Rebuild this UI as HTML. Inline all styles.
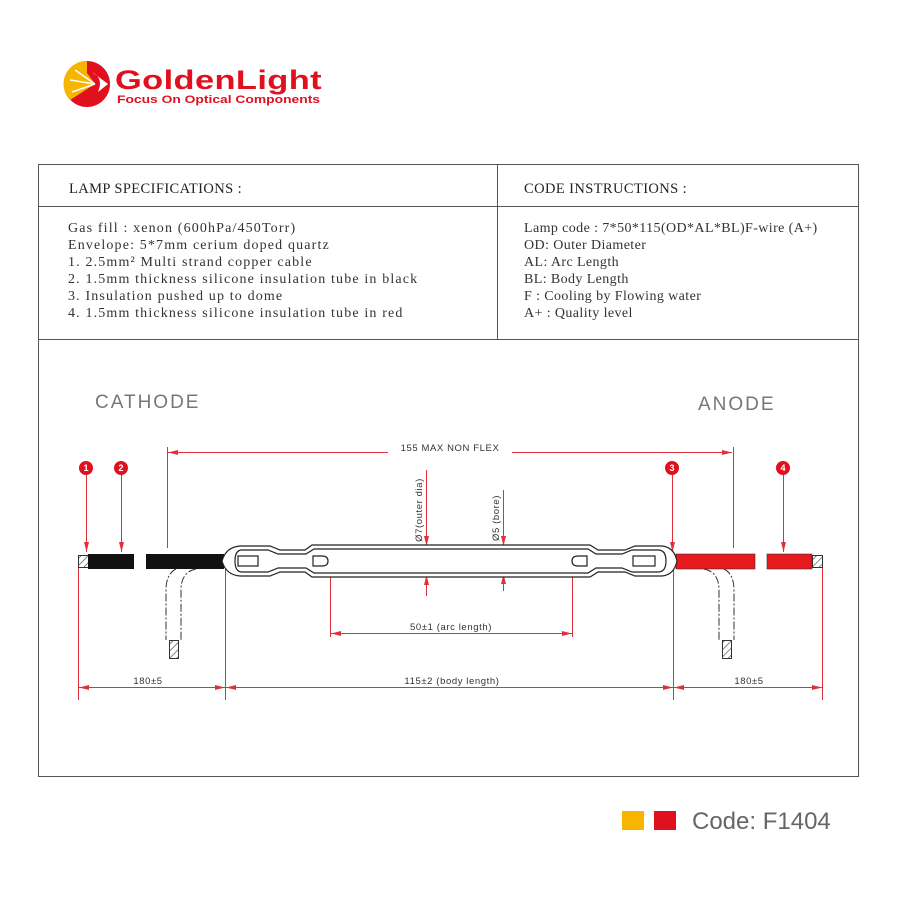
<!DOCTYPE html>
<html><head><meta charset="utf-8"><style>
html,body{margin:0;padding:0;background:#fff;}
svg{display:block;}
.s{font-family:"Liberation Serif",serif;font-size:14px;fill:#333;letter-spacing:1.15px;}
.c{font-family:"Liberation Serif",serif;font-size:14px;fill:#333;letter-spacing:0.4px;}
.h{font-family:"Liberation Serif",serif;font-size:14.5px;fill:#222;letter-spacing:0.4px;}
.d{font-family:"Liberation Sans",sans-serif;font-size:9.5px;fill:#333;letter-spacing:0.6px;}
</style></head><body>
<svg width="900" height="900" viewBox="0 0 900 900" xmlns="http://www.w3.org/2000/svg">
<defs>
<pattern id="hat" width="5" height="5" patternUnits="userSpaceOnUse" patternTransform="rotate(45)"><rect width="5" height="5" fill="#fff"/><line x1="0" y1="0" x2="0" y2="5" stroke="#333" stroke-width="1.2"/></pattern>
<marker id="ar" markerWidth="10" markerHeight="6" refX="10" refY="3" orient="auto" markerUnits="userSpaceOnUse"><path d="M0,0.5 L10,3 L0,5.5z" fill="#e0303a"/></marker>
<marker id="al" markerWidth="10" markerHeight="6" refX="0" refY="3" orient="auto" markerUnits="userSpaceOnUse"><path d="M10,0.5 L0,3 L10,5.5z" fill="#e0303a"/></marker>
</defs>
<circle cx="87" cy="84" r="23" fill="#e0101e"/>
<path d="M87,61 A23,23 0 0 0 70,100 L95,84 L87,73z" fill="#f7b500"/>
<path d="M75,70 L95,84 M70,80 L95,84 M72,92 L95,84" stroke="#fff" stroke-width="1.5"/>
<path d="M92,72 Q104,78 98,92 L108,84z" fill="#fff"/>
<text x="115" y="89" font-family="Liberation Sans,sans-serif" font-weight="bold" font-size="27" fill="#e0101e" letter-spacing="0.3" textLength="207" lengthAdjust="spacingAndGlyphs">GoldenLight</text>
<text x="117" y="103" font-family="Liberation Sans,sans-serif" font-weight="bold" font-size="11" fill="#e0101e" textLength="203" lengthAdjust="spacingAndGlyphs">Focus On Optical Components</text>
<rect x="38.5" y="164.5" width="820" height="612" fill="none" stroke="#555" stroke-width="1"/>
<line x1="38" y1="206.5" x2="858" y2="206.5" stroke="#555"/>
<line x1="38" y1="339.5" x2="858" y2="339.5" stroke="#555"/>
<line x1="497.5" y1="164" x2="497.5" y2="339" stroke="#555"/>
<text class="h" x="69" y="193">LAMP SPECIFICATIONS :</text>
<text class="h" x="524" y="193">CODE INSTRUCTIONS :</text>
<text class="s" x="68" y="232">Gas fill : xenon (600hPa/450Torr)</text>
<text class="s" x="68" y="249">Envelope: 5*7mm cerium doped quartz</text>
<text class="s" x="68" y="266">1. 2.5mm² Multi strand copper cable</text>
<text class="s" x="68" y="283">2. 1.5mm thickness silicone insulation tube in  black</text>
<text class="s" x="68" y="300">3.  Insulation pushed up to dome</text>
<text class="s" x="68" y="317">4. 1.5mm thickness silicone insulation tube in red</text>
<text class="c" x="524" y="232">Lamp code : 7*50*115(OD*AL*BL)F-wire (A+)</text>
<text class="c" x="524" y="249">OD: Outer Diameter</text>
<text class="c" x="524" y="266"> AL: Arc Length</text>
<text class="c" x="524" y="283"> BL: Body Length</text>
<text class="c" x="524" y="300"> F   : Cooling by Flowing water</text>
<text class="c" x="524" y="317">A+ : Quality level</text>
<text x="95" y="408" font-family="Liberation Sans,sans-serif" font-size="19" fill="#777" letter-spacing="2">CATHODE</text>
<text x="698" y="410" font-family="Liberation Sans,sans-serif" font-size="19" fill="#777" letter-spacing="2">ANODE</text>
<g stroke="#e0303a" stroke-width="1" fill="none">
<line x1="167.5" y1="447" x2="167.5" y2="548"/>
<line x1="733.5" y1="447" x2="733.5" y2="548"/>
<line x1="168" y1="452.5" x2="732" y2="452.5" marker-start="url(#al)" marker-end="url(#ar)"/>
<line x1="426.5" y1="470" x2="426.5" y2="546" marker-end="url(#ar)"/>
<line x1="426.5" y1="596" x2="426.5" y2="575" marker-end="url(#ar)"/>
<line x1="503.5" y1="490" x2="503.5" y2="546" marker-end="url(#ar)"/>
<line x1="503.5" y1="591" x2="503.5" y2="574" marker-end="url(#ar)"/>
<line x1="330.5" y1="562" x2="330.5" y2="637"/>
<line x1="572.5" y1="562" x2="572.5" y2="637"/>
<line x1="331" y1="633.5" x2="572" y2="633.5" marker-start="url(#al)" marker-end="url(#ar)"/>
<line x1="78.5" y1="565" x2="78.5" y2="700"/>
<line x1="225.5" y1="568" x2="225.5" y2="700"/>
<line x1="673.5" y1="568" x2="673.5" y2="700"/>
<line x1="822.5" y1="565" x2="822.5" y2="700"/>
<line x1="79" y1="687.5" x2="225" y2="687.5" marker-start="url(#al)" marker-end="url(#ar)"/>
<line x1="226" y1="687.5" x2="673" y2="687.5" marker-start="url(#al)" marker-end="url(#ar)"/>
<line x1="674" y1="687.5" x2="822" y2="687.5" marker-start="url(#al)" marker-end="url(#ar)"/>
<line x1="86.5" y1="475" x2="86.5" y2="552" marker-end="url(#ar)"/>
<line x1="121.5" y1="475" x2="121.5" y2="552" marker-end="url(#ar)"/>
<line x1="672.5" y1="475" x2="672.5" y2="552" marker-end="url(#ar)"/>
<line x1="783.5" y1="475" x2="783.5" y2="552" marker-end="url(#ar)"/>
</g>
<g fill="#e0101e">
<circle cx="86" cy="468" r="7"/><circle cx="121" cy="468" r="7"/><circle cx="672" cy="468" r="7"/><circle cx="783" cy="468" r="7"/>
</g>
<g font-family="Liberation Sans,sans-serif" font-weight="bold" font-size="9" fill="#fff" text-anchor="middle">
<text x="86" y="471">1</text><text x="121" y="471">2</text><text x="672" y="471">3</text><text x="783" y="471">4</text>
</g>
<rect x="388" y="444" width="124" height="12" fill="#fff"/>
<text class="d" x="450" y="451" text-anchor="middle">155 MAX NON FLEX</text>
<text class="d" x="422" y="510" transform="rotate(-90 422 510)" text-anchor="middle">Ø7(outer dia)</text>
<text class="d" x="499" y="518" transform="rotate(-90 499 518)" text-anchor="middle">Ø5 (bore)</text>
<rect x="405" y="621" width="90" height="12" fill="#fff"/>
<text class="d" x="451" y="630" text-anchor="middle">50±1 (arc length)</text>
<rect x="128" y="675" width="38" height="12" fill="#fff"/>
<text class="d" x="148" y="684" text-anchor="middle">180±5</text>
<rect x="400" y="675" width="106" height="12" fill="#fff"/>
<text class="d" x="452" y="684" text-anchor="middle">115±2 (body length)</text>
<rect x="730" y="675" width="38" height="12" fill="#fff"/>
<text class="d" x="749" y="684" text-anchor="middle">180±5</text>
<rect x="78.5" y="555.5" width="10" height="12" fill="url(#hat)" stroke="#333"/>
<rect x="88" y="554" width="46" height="15" fill="#111"/>
<rect x="146" y="554" width="78" height="15" fill="#111"/>
<rect x="676" y="554" width="79" height="15" fill="#e8191e" stroke="#333" stroke-width="0.6"/>
<rect x="767" y="554" width="45" height="15" fill="#e8191e" stroke="#333" stroke-width="0.6"/>
<rect x="812.5" y="555.5" width="10" height="12" fill="url(#hat)" stroke="#333"/>
<g stroke="#333" stroke-width="1" fill="none" stroke-dasharray="8,2,2,2">
<path d="M196,569 Q181,572 181,590 L181,640"/>
<path d="M176,569 Q166,574 166,590 L166,640"/>
<path d="M704,569 Q719,572 719,590 L719,640"/>
<path d="M724,569 Q734,574 734,590 L734,640"/>
</g>
<rect x="169.5" y="640.5" width="9" height="18" fill="url(#hat)" stroke="#333"/>
<rect x="722.5" y="640.5" width="9" height="18" fill="url(#hat)" stroke="#333"/>
<g stroke="#222" stroke-width="1.2" fill="#fff">
<path d="M222,561 Q226,547 240,546 L270,546 L280,550 L305,550 L312,545 L590,545 L598,550 L625,550 L635,546 L662,546 Q674,547 677,561 Q674,575 662,576 L635,576 L625,572 L598,572 L590,577 L312,577 L305,572 L280,572 L270,576 L240,576 Q226,575 222,561z"/>
<path d="M235,561 Q235,550 242,550 L268,550 L278,554 L306,554 L314,549 L588,549 L596,554 L622,554 L632,550 L658,550 Q666,550 666,561 Q666,572 658,572 L632,572 L622,568 L596,568 L588,573 L314,573 L306,568 L278,568 L268,572 L242,572 Q235,572 235,561z"/>
<rect x="238" y="556" width="20" height="10"/>
<path d="M313,556 L322,556 Q328,556 328,561 Q328,566 322,566 L313,566z"/>
<path d="M587,556 L578,556 Q572,556 572,561 Q572,566 578,566 L587,566z"/>
<rect x="633" y="556" width="22" height="10"/>
</g>
<rect x="622" y="811" width="22" height="19" fill="#f7b500"/>
<rect x="654" y="811" width="22" height="19" fill="#e0101e"/>
<text x="692" y="829" font-family="Liberation Sans,sans-serif" font-size="24" fill="#666">Code: F1404</text>
</svg>
</body></html>
